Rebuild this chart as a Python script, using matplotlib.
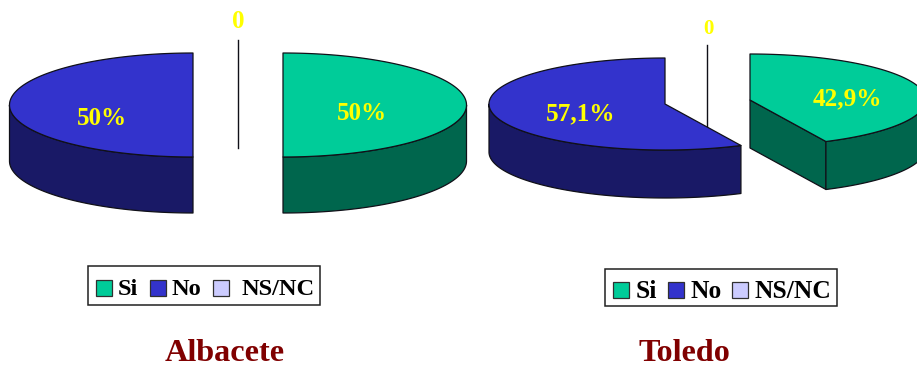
import numpy as np
import matplotlib
matplotlib.use("Agg")
import matplotlib.pyplot as plt
from matplotlib.patches import Polygon, Rectangle

categories = ["Si", "No", "NS/NC"]
albacete_values = [50, 50, 0]
toledo_values = [42.9, 57.1, 0]

top_colors = ["#00CC99", "#3333CC", "#CCCCFF"]
side_colors = ["#00664D", "#191966", "#666680"]
label_color = "#FFFF00"
title_color = "#800000"
serif = "Liberation Serif"

W, H = 917, 367
fig = plt.figure(figsize=(W / 100, H / 100), dpi=100, facecolor="white")
ax = fig.add_axes([0, 0, 1, 1])
ax.set_xlim(0, W)
ax.set_ylim(H, 0)
ax.axis("off")


def rim(center, a, b, t0, t1, drop=0.0):
    """Points along the elliptical rim between two angles in degrees."""
    t = np.radians(np.linspace(t0, t1, max(2, int(abs(t1 - t0)) * 2)))
    return np.column_stack([center[0] + a * np.cos(t),
                            center[1] - b * np.sin(t) + drop])


def draw_slice(center, a, b, depth, t0, t1, color_i, z):
    """One extruded sector running clockwise from t0 down to t1."""
    top, side = top_colors[color_i], side_colors[color_i]
    style = dict(edgecolor="#101018", linewidth=0.9, zorder=z, joinstyle="round")
    cx, cy = center

    if t0 == t1:
        # An empty sector collapses to a single line through the pie.
        p = rim(center, a, b, t0, t0)[0]
        ax.plot([p[0], cx, cx], [p[1], cy, cy + depth],
                color="#101018", lw=1.0, zorder=z)
        return

    # Cut faces that turn towards the viewer.
    for angle, sign in ((t0, -1), (t1, 1)):
        if sign * np.cos(np.radians(angle)) > 1e-6:
            p = rim(center, a, b, angle, angle)[0]
            ax.add_patch(Polygon([(cx, cy), p, (p[0], p[1] + depth), (cx, cy + depth)],
                                 facecolor=side, **style))

    # Front wall: the part of the rim lying in the lower half of the ellipse.
    low, high = max(t1, -180.0), min(t0, 0.0)
    if high > low:
        upper = rim(center, a, b, high, low)
        lower = rim(center, a, b, low, high, drop=depth)
        ax.add_patch(Polygon(np.vstack([upper, lower]), facecolor=side, **style))

    # Top face.
    arc = rim(center, a, b, t0, t1)
    ax.add_patch(Polygon(np.vstack([[center], arc]), facecolor=top, **style))


def draw_pie(values, centers, a, b, depth):
    angle = 90.0
    total = sum(values)
    order = []
    for i, v in enumerate(values):
        sweep = 360.0 * v / total
        order.append((i, angle, angle - sweep))
        angle -= sweep
    # Empty sectors first, so the filled ones sit in front of them.
    for z, (i, t0, t1) in enumerate(sorted(order, key=lambda s: s[1] != s[2])):
        draw_slice(centers[i], a, b, depth, t0, t1, i, 2 + z)


def value_text(v):
    return f"{v:g}%".replace(".", ",") if v else "0"


def draw_labels(values, positions, sizes):
    for v, (x, y), size in zip(values, positions, sizes):
        ax.text(x, y, value_text(v), color=label_color, fontsize=size, family=serif,
                fontweight="bold", ha="center", va="baseline", zorder=10)


def draw_legend(box, swatch_x, text_x, swatch_y, size):
    x0, y0, x1, y1 = box
    ax.add_patch(Rectangle((x0, y0), x1 - x0, y1 - y0, facecolor="white",
                           edgecolor="#202020", linewidth=1.1, zorder=5))
    for i, name in enumerate(categories):
        ax.add_patch(Rectangle((swatch_x[i], swatch_y), 15.5, 16, facecolor=top_colors[i],
                               edgecolor="#303030", linewidth=0.9, zorder=6))
        ax.text(text_x[i], swatch_y + 15.5, name, fontsize=size, family=serif,
                fontweight="bold", color="black", ha="left", va="baseline", zorder=6)


# Albacete
draw_pie(albacete_values, [(283, 105), (193, 105), (238, 92)], 183.5, 52, 56)
draw_labels(albacete_values, [(362, 120), (101.5, 125), (238, 28)], [18, 18, 18])
draw_legend((88, 266, 320, 305), (96, 150, 213), (118, 172, 241.5), 279.5, 17.6)
ax.text(225, 361, "Albacete", color=title_color, fontsize=23.2, family=serif,
        fontweight="bold", ha="center", va="baseline")

# Toledo
draw_pie(toledo_values, [(750, 100), (665, 104), (707, 91)], 176, 46, 48)
draw_labels(toledo_values, [(847, 105), (581, 120.5), (708, 34)], [18.2, 18.2, 15])
draw_legend((605, 269, 837, 306), (613, 668, 732), (635.5, 690.5, 754.5), 282, 18.4)
ax.text(684.5, 361, "Toledo", color=title_color, fontsize=23.2, family=serif,
        fontweight="bold", ha="center", va="baseline")

fig.savefig("out.png", dpi=100, facecolor="white")
